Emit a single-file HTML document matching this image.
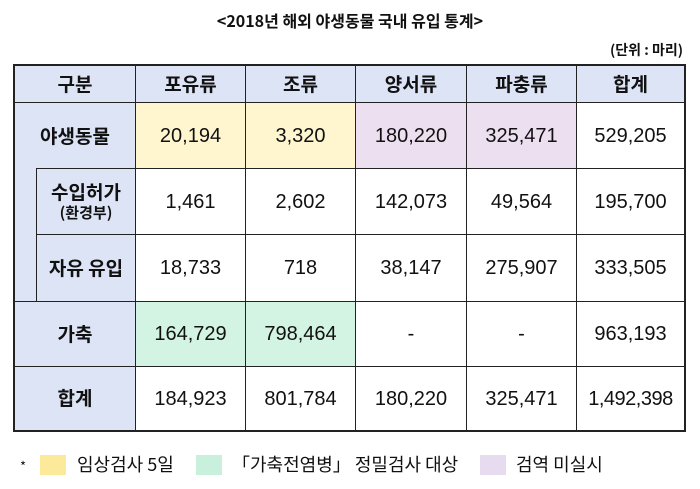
<!DOCTYPE html>
<html><head><meta charset="utf-8">
<style>
body{margin:0;width:700px;height:489px;background:#fff;position:relative;overflow:hidden;font-family:"Liberation Sans","Noto Sans CJK KR",sans-serif;color:#111}
.c{position:absolute;box-sizing:border-box;border:1px solid #222;display:flex;align-items:center;justify-content:center;font-size:20px;text-align:center;line-height:1.2}
.h{background:#dde4f5;font-weight:bold;font-family:"Noto Sans CJK KR",sans-serif;font-size:19px}
.y{background:#fff6d0}.m{background:#d3f3e3}.p{background:#ecdff0}
.t{position:absolute;font-family:"Noto Sans CJK KR",sans-serif}
.box{position:absolute;width:26px;height:20px}
</style></head><body>
<div class="t" style="left:0;width:700px;top:8px;text-align:center;font-size:16px;font-weight:bold">&lt;2018년 해외 야생동물 국내 유입 통계&gt;</div>
<div class="t" style="right:17px;top:40px;font-size:14px;font-weight:bold">(단위 : 마리)</div>

<div>
<div class="c h" style="left:14px;top:65px;width:122px;height:38px">구분</div>
<div class="c h" style="left:135px;top:65px;width:111px;height:38px">포유류</div>
<div class="c h" style="left:245px;top:65px;width:111px;height:38px">조류</div>
<div class="c h" style="left:355px;top:65px;width:112px;height:38px">양서류</div>
<div class="c h" style="left:466px;top:65px;width:111px;height:38px">파충류</div>
<div class="c h" style="left:576px;top:65px;width:109px;height:38px">합계</div>

<div class="c h" style="left:14px;top:102px;width:122px;height:200px;border-bottom:none"></div>
<div class="t" style="left:14px;top:102px;width:122px;height:66px;display:flex;align-items:center;justify-content:center;font-size:19px;font-weight:bold">야생동물</div>
<div class="c h" style="left:36px;top:168px;width:100px;height:67px;flex-direction:column"><span>수입허가</span><span style="font-size:15px">(환경부)</span></div>
<div class="c h" style="left:36px;top:234px;width:100px;height:68px">자유 유입</div>

<div class="c y" style="left:135px;top:102px;width:111px;height:67px">20,194</div>
<div class="c y" style="left:245px;top:102px;width:111px;height:67px">3,320</div>
<div class="c p" style="left:355px;top:102px;width:112px;height:67px">180,220</div>
<div class="c p" style="left:466px;top:102px;width:111px;height:67px">325,471</div>
<div class="c" style="left:576px;top:102px;width:109px;height:67px">529,205</div>

<div class="c" style="left:135px;top:168px;width:111px;height:67px">1,461</div>
<div class="c" style="left:245px;top:168px;width:111px;height:67px">2,602</div>
<div class="c" style="left:355px;top:168px;width:112px;height:67px">142,073</div>
<div class="c" style="left:466px;top:168px;width:111px;height:67px">49,564</div>
<div class="c" style="left:576px;top:168px;width:109px;height:67px">195,700</div>

<div class="c" style="left:135px;top:234px;width:111px;height:68px">18,733</div>
<div class="c" style="left:245px;top:234px;width:111px;height:68px">718</div>
<div class="c" style="left:355px;top:234px;width:112px;height:68px">38,147</div>
<div class="c" style="left:466px;top:234px;width:111px;height:68px">275,907</div>
<div class="c" style="left:576px;top:234px;width:109px;height:68px">333,505</div>

<div class="c h" style="left:14px;top:301px;width:122px;height:66px">가축</div>
<div class="c m" style="left:135px;top:301px;width:111px;height:66px">164,729</div>
<div class="c m" style="left:245px;top:301px;width:111px;height:66px">798,464</div>
<div class="c" style="left:355px;top:301px;width:112px;height:66px">-</div>
<div class="c" style="left:466px;top:301px;width:111px;height:66px">-</div>
<div class="c" style="left:576px;top:301px;width:109px;height:66px">963,193</div>

<div class="c h" style="left:14px;top:366px;width:122px;height:65px">합계</div>
<div class="c" style="left:135px;top:366px;width:111px;height:65px">184,923</div>
<div class="c" style="left:245px;top:366px;width:111px;height:65px">801,784</div>
<div class="c" style="left:355px;top:366px;width:112px;height:65px">180,220</div>
<div class="c" style="left:466px;top:366px;width:111px;height:65px">325,471</div>
<div class="c" style="left:576px;top:366px;width:109px;height:65px;letter-spacing:-0.5px">1,492,398</div>

<div style="position:absolute;left:13px;top:64px;width:673px;height:368px;border:2px solid #222;box-sizing:border-box"></div>
</div>

<div>
<div class="t" style="left:20px;top:456px;font-size:13px">*</div>
<div class="box" style="left:40px;top:455px;background:#fde99a"></div>
<div class="t" style="left:77px;top:451px;font-size:18px">임상검사 5일</div>
<div class="box" style="left:196px;top:455px;background:#c9f0dc"></div>
<div class="t" style="left:232px;top:451px;font-size:18px">「가축전염병」 정밀검사 대상</div>
<div class="box" style="left:480px;top:455px;background:#e6dbef"></div>
<div class="t" style="left:516px;top:451px;font-size:18px">검역 미실시</div>
</div>
</body></html>
